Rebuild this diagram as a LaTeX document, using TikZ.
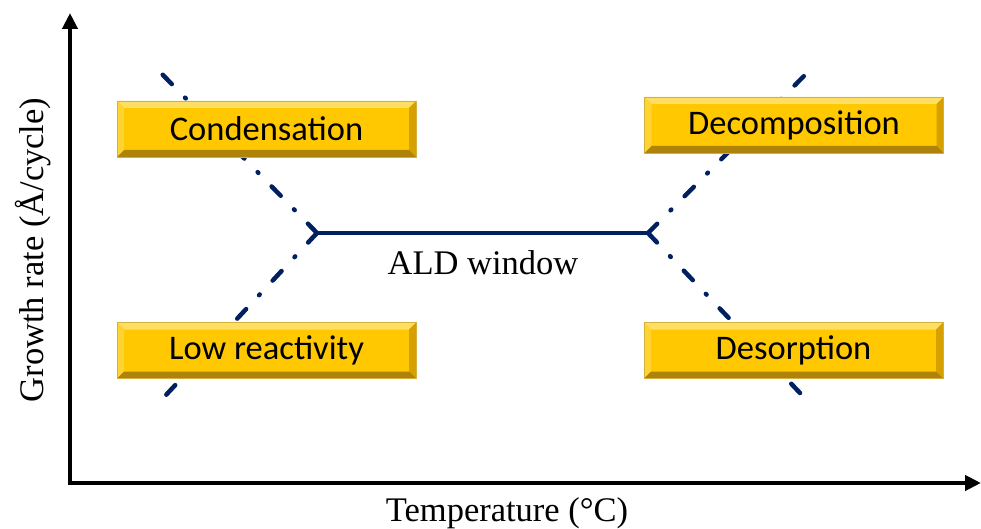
\documentclass[tikz,border=0pt]{standalone}
\usepackage{fontspec}
\setmainfont{Liberation Serif}
\newfontfamily\boxfont{Carlito}
\usetikzlibrary{arrows.meta}
\definecolor{navy}{RGB}{0,32,96}
\definecolor{goldbody}{RGB}{255,200,0}
\definecolor{goldtop}{RGB}{255,222,100}
\definecolor{goldleft}{RGB}{255,212,50}
\definecolor{goldright}{RGB}{214,160,0}
\definecolor{goldbottom}{RGB}{175,130,10}
\definecolor{goldedge}{RGB}{215,175,60}
\tikzset{
  axis/.style={line width=4pt, -{Triangle[length=16pt,width=15pt]}},
  window/.style={navy, line width=4.5pt, line cap=round},
  dashdot/.style={navy, line width=4.5pt, line cap=round,
    dash pattern=on 13pt off 19pt on 1pt off 19pt},
  gbox/.style={minimum width=299pt, minimum height=56pt, inner sep=0pt,
    fill=goldbody, draw=goldedge, line width=0.8pt,
    font=\boxfont\fontsize{34.5}{40}\selectfont,
    path picture={
      \coordinate (nw) at (path picture bounding box.north west);
      \coordinate (ne) at (path picture bounding box.north east);
      \coordinate (sw) at (path picture bounding box.south west);
      \coordinate (se) at (path picture bounding box.south east);
      \fill[goldtop] (nw) -- (ne) -- ([xshift=-7pt,yshift=-7pt]ne) -- ([xshift=7pt,yshift=-7pt]nw) -- cycle;
      \fill[goldleft] (nw) -- (sw) -- ([xshift=7pt,yshift=7pt]sw) -- ([xshift=7pt,yshift=-7pt]nw) -- cycle;
      \fill[goldright] (ne) -- (se) -- ([xshift=-7pt,yshift=7pt]se) -- ([xshift=-7pt,yshift=-7pt]ne) -- cycle;
      \fill[goldbottom] (sw) -- (se) -- ([xshift=-7pt,yshift=7pt]se) -- ([xshift=7pt,yshift=7pt]sw) -- cycle;
    }},
  label/.style={font=\fontsize{34.5}{40}\selectfont, inner sep=0pt}
}
\begin{document}
\begin{tikzpicture}[x=1pt,y=-1pt]
\useasboundingbox (0,0) rectangle (981,529);
% axes
\coordinate (origin) at (70,483);
\coordinate (ytop) at (70,13);
\coordinate (xend) at (981,483);
\draw[axis] ([yshift=-2pt]origin) -- (ytop);
\draw[axis] ([xshift=-2pt]origin) -- (xend);
% junctions and free ends
\coordinate (jl) at (317,233);
\coordinate (jr) at (648,233);
\coordinate (ul) at (160,72);
\coordinate (ll) at (166,395);
\coordinate (ur) at (806,74);
\coordinate (lr) at (800,393);
\draw[dashdot] (jl) -- (ul);
\draw[dashdot] (jl) -- (ll);
\draw[dashdot] (jr) -- (ur);
\draw[dashdot] (jr) -- (lr);
\draw[window] (jl) -- (jr);
% boxes
\node[gbox] (cond) at (266.5,129) {Condensation};
\node[gbox] (lowr) at (266.5,350.5) {Low reactivity};
\node[gbox] (deco) at (794,125) {Decomposition};
\node[gbox] (deso) at (793.5,350.5) {Desorption};
% labels
\node[label] (ald) at (483,263) {ALD window};
\node[label] (xlab) at (507,513) {Temperature (°C)};
\node[label, rotate=90] (ylab) at (33,250) {Growth rate (Å/cycle)};
\end{tikzpicture}
\end{document}
